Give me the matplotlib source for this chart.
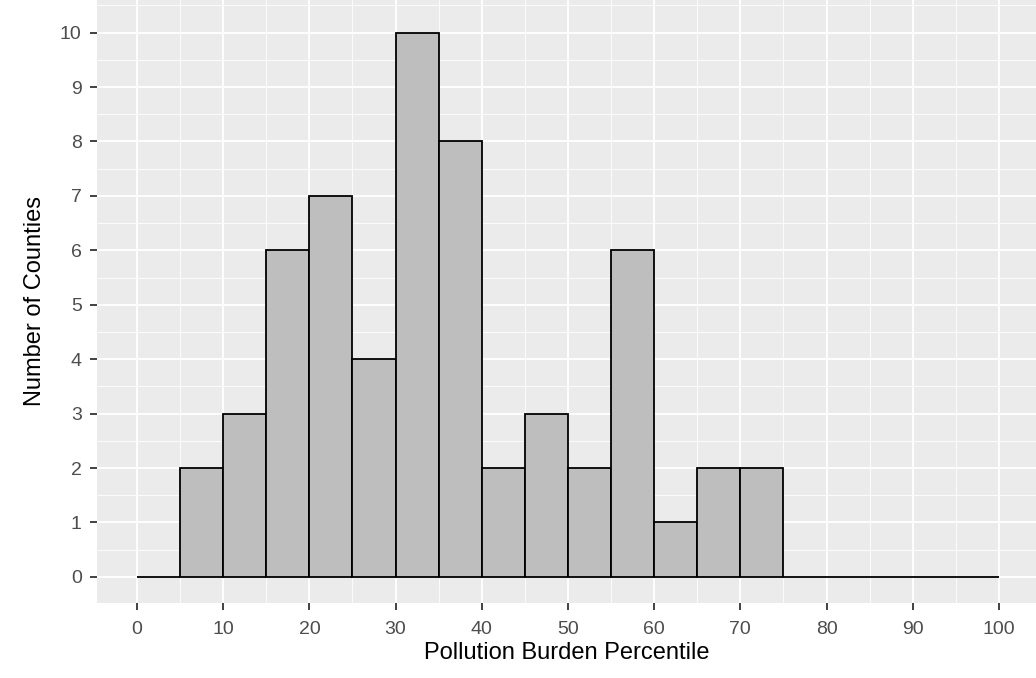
import numpy as np
import matplotlib.pyplot as plt

plt.rcParams['font.family'] = ['Liberation Sans', 'DejaVu Sans']

# histogram bins (width 5) and counts
bin_left = list(range(0, 100, 5))
counts = [0, 2, 3, 6, 7, 4, 10, 8, 2, 3, 2, 6, 1, 2, 2, 0, 0, 0, 0, 0]

W, H = 1036, 678
fig = plt.figure(figsize=(W / 100, H / 100), dpi=100)
ax = fig.add_axes([97 / W, 75 / H, 939 / W, 603 / H])
ax.set_facecolor('#EBEBEB')

ax.set_xlim(-4.64, 104.3)
ax.set_ylim(-0.48, 10.6)
ax.set_xticks(range(0, 101, 10))
ax.set_xticks(range(5, 101, 10), minor=True)
ax.set_yticks(range(0, 11))
ax.set_yticks(np.arange(0.5, 10.6, 1), minor=True)
ax.grid(which='major', color='white', linewidth=1.3)
ax.grid(which='minor', color='white', linewidth=0.6)
ax.set_axisbelow(True)
for s in ax.spines.values():
    s.set_visible(False)

ax.bar(bin_left, counts, width=5, align='edge', color='#BEBEBE',
       edgecolor='black', linewidth=1.3)

ax.tick_params(which='major', colors='#333333', labelsize=14, length=5, width=1.3)
ax.tick_params(axis='x', pad=8)
ax.tick_params(axis='y', pad=6)
ax.tick_params(which='minor', length=0)
for lab in ax.get_xticklabels() + ax.get_yticklabels():
    lab.set_color('#4D4D4D')
ax.set_xlabel('Pollution Burden Percentile', fontsize=17, labelpad=3)
ax.set_ylabel('Number of Counties', fontsize=17, labelpad=10)

plt.savefig('out.png', dpi=100)
